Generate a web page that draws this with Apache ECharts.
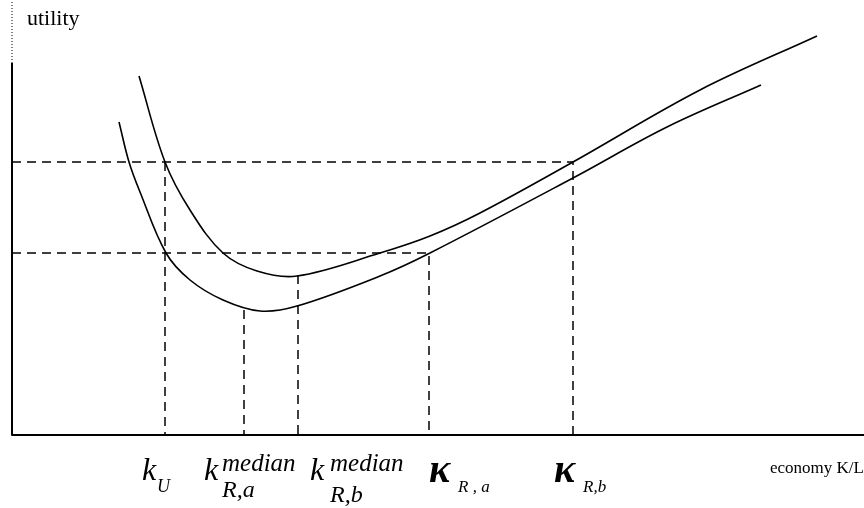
<!DOCTYPE html>
<html>
<head>
<meta charset="utf-8">
<script src="https://cdn.jsdelivr.net/npm/echarts@6/dist/echarts.min.js"></script>
<style>html,body{margin:0;padding:0;background:#fff}#chart{width:864px;height:508px}</style>
</head>
<body>
<div id="chart"></div>
<script>
// Schematic utility curves (arbitrary units: x = capital per labour, y = utility)
const upperCurve = [[127,359],[153,273],[178,225],[211,182],[245,164],[285,159],[368,182],[418,199],[468,222],[561,273],[688,345],[805,399]];
const lowerCurve = [[107,313],[117,273],[128,243],[154,182],[178,155],[211,135],[248,124],[285,129],[368,159],[418,182],[561,257],[655,308],[749,350]];
// guide positions
const kU = 153, kRaMedian = 232, kRbMedian = 286, kappaRa = 417, kappaRb = 561;
const highUtility = 273, lowUtility = 182, minUtilityA = 125, minUtilityB = 160;
const xMax = 852, yMax = 435, yAxisSolidTop = 372;

const chart = echarts.init(document.getElementById('chart'));
const serif = '"Liberation Serif","Times New Roman",serif';
const dash = {color:'#000', width:1.5, type:[9,6]};
function guide(data){
  return {type:'line', data:data, symbol:'none', silent:true, lineStyle:dash, z:1};
}
// Catmull-Rom style smoothing of the pixel points produced by the axes
function smoothPath(pts, t){
  const dist = (a,b) => Math.hypot(b[0]-a[0], b[1]-a[1]);
  let d = 'M' + pts[0][0] + ' ' + pts[0][1];
  for (let i = 0; i < pts.length - 1; i++) {
    const p0 = pts[i-1] || pts[i], p1 = pts[i], p2 = pts[i+1], p3 = pts[i+2] || pts[i+1];
    const d01 = dist(p0,p1), d12 = dist(p1,p2), d23 = dist(p2,p3);
    const r1 = d01 === 0 ? 1 : d12/(d01+d12);
    const r2 = d23 === 0 ? 1 : d12/(d12+d23);
    const c1 = [p1[0] + (p2[0]-p0[0])*t*r1, p1[1] + (p2[1]-p0[1])*t*r1];
    const c2 = [p2[0] - (p3[0]-p1[0])*t*r2, p2[1] - (p3[1]-p1[1])*t*r2];
    d += ' C' + c1[0] + ' ' + c1[1] + ' ' + c2[0] + ' ' + c2[1] + ' ' + p2[0] + ' ' + p2[1];
  }
  return d;
}
function curve(data){
  return {
    type:'custom', coordinateSystem:'cartesian2d', data:[data[0]], z:2, silent:true,
    renderItem:function(params, api){
      const pts = data.map(p => api.coord(p));
      return {type:'path', shape:{pathData:smoothPath(pts, 0.36)},
              style:{fill:null, stroke:'#000', lineWidth:1.6}};
    }
  };
}
function txt(x,y,text,font){
  return {type:'text', x:x, y:y, style:{text:text, font:font, fill:'#000', verticalAlign:'middle', align:'left'}};
}
chart.setOption({
  animation:false,
  backgroundColor:'#fff',
  grid:{left:12, right:0, top:0, bottom:73, containLabel:false},
  xAxis:{type:'value', min:0, max:xMax, axisLine:{show:true, lineStyle:{color:'#000', width:2}},
         axisTick:{show:false}, axisLabel:{show:false}, splitLine:{show:false}},
  yAxis:{type:'value', min:0, max:yMax, axisLine:{show:false}, axisTick:{show:false},
         axisLabel:{show:false}, splitLine:{show:false}},
  series:[
    {type:'line', data:[[0,0],[0,yAxisSolidTop]], symbol:'none', clip:false, lineStyle:{color:'#000', width:2}, z:3},
    {type:'line', data:[[0,yAxisSolidTop],[0,yMax]], symbol:'none', clip:false, lineStyle:{color:'#000', width:1, type:[1,2]}, z:3},
    guide([[0,highUtility],[kappaRb,highUtility],[kappaRb,0]]),
    guide([[0,lowUtility],[kappaRa,lowUtility],[kappaRa,0]]),
    guide([[kU,highUtility],[kU,0]]),
    guide([[kRaMedian,minUtilityA],[kRaMedian,0]]),
    guide([[kRbMedian,minUtilityB],[kRbMedian,0]]),
    curve(upperCurve),
    curve(lowerCurve)
  ],
  graphic:[
    txt(27,19,'utility','22px '+serif),
    txt(770,469,'economy K/L','17px '+serif),
    txt(142,472,'k','italic 32px '+serif),
    txt(157,487,'U','italic 18px '+serif),
    txt(204,472,'k','italic 32px '+serif),
    txt(222,464,'median','italic 25px '+serif),
    txt(222,491,'R,a','italic 24px '+serif),
    txt(310,472,'k','italic 32px '+serif),
    txt(330,464,'median','italic 25px '+serif),
    txt(330,496,'R,b','italic 24px '+serif),
    txt(429,472,'κ','bold italic 40px '+serif),
    txt(458,488,'R , a','italic 17px '+serif),
    txt(554,472,'κ','bold italic 40px '+serif),
    txt(583,488,'R,b','italic 17px '+serif)
  ]
});
</script>
</body>
</html>
